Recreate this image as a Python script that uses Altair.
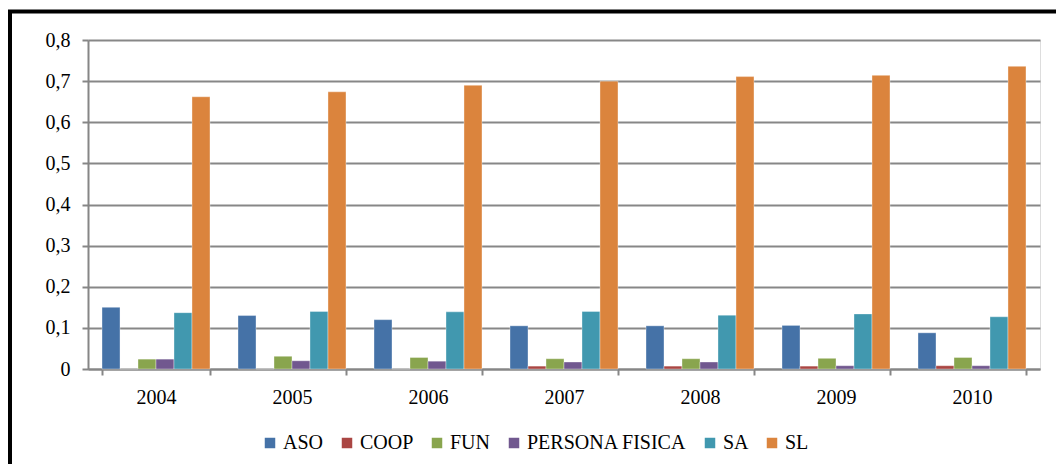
import altair as alt
import pandas as pd

years = ["2004", "2005", "2006", "2007", "2008", "2009", "2010"]
series = ["ASO", "COOP", "FUN", "PERSONA FISICA", "SA", "SL"]
colors = ["#4572A7", "#AA4643", "#89A54E", "#71588F", "#4198AF", "#DB843D"]

ASO = [0.150, 0.130, 0.120, 0.105, 0.105, 0.106, 0.088]
COOP = [0.0, 0.0, 0.0, 0.007, 0.007, 0.007, 0.008]
FUN = [0.024, 0.031, 0.028, 0.025, 0.025, 0.026, 0.028]
PERSONA_FISICA = [0.024, 0.020, 0.019, 0.017, 0.017, 0.008, 0.008]
SA = [0.137, 0.140, 0.139, 0.140, 0.131, 0.134, 0.127]
SL = [0.662, 0.674, 0.690, 0.700, 0.711, 0.714, 0.736]

y_ticks = [0, 0.1, 0.2, 0.3, 0.4, 0.5, 0.6, 0.7, 0.8]

values = {"ASO": ASO, "COOP": COOP, "FUN": FUN, "PERSONA FISICA": PERSONA_FISICA, "SA": SA, "SL": SL}
rows = []
for s in series:
    for yr, v in zip(years, values[s]):
        rows.append({"year": yr, "series": s, "value": v})
df = pd.DataFrame(rows)

FONT = "Liberation Serif"

bars = alt.Chart(df).mark_bar(stroke="#ffffff", strokeWidth=0.6, strokeOpacity=0.6).encode(
    x=alt.X("year:N", sort=years, title=None,
            scale=alt.Scale(paddingInner=0.206, paddingOuter=0.103),
            axis=alt.Axis(labelAngle=0, tickBand="extent", tickSize=6, labelPadding=12,
                          domainColor="#868686", domainWidth=2, tickColor="#868686", tickWidth=2,
                          labelFont=FONT, labelFontSize=20, labelColor="#000000", grid=False)),
    xOffset=alt.XOffset("series:N", sort=series, scale=alt.Scale(paddingInner=0, paddingOuter=0)),
    y=alt.Y("value:Q", title=None,
            scale=alt.Scale(domain=[0, 0.8], nice=False),
            axis=alt.Axis(values=y_ticks, tickSize=6, labelPadding=12,
                          labelExpr="datum.value == 0 ? '0' : replace(format(datum.value, '.1f'), '.', ',')",
                          domainColor="#868686", domainWidth=2, tickColor="#868686", tickWidth=2,
                          gridColor="#878787", gridWidth=2,
                          labelFont=FONT, labelFontSize=20, labelColor="#000000")),
    color=alt.Color("series:N", sort=series, scale=alt.Scale(domain=series, range=colors),
                    legend=alt.Legend(title=None, orient="none", direction="horizontal",
                                      legendX=172, legendY=393, symbolType="square", symbolSize=110,
                                      symbolStrokeWidth=0, labelFont=FONT, labelFontSize=20,
                                      labelColor="#000000", labelOffset=3, columnPadding=13,
                                      padding=0)),
)

border = alt.Chart(pd.DataFrame({"a": [0]})).mark_rect(
    fill=None, filled=False, stroke="#000000", strokeWidth=4, clip=False
).encode(
    x=alt.value(-78), x2=alt.value(1300), y=alt.value(-28.5), y2=alt.value(700)
)

chart = alt.layer(bars, border).properties(
    width=952, height=329,
    autosize=alt.AutoSizeParams(type="none"),
    padding={"left": 80, "top": 32, "right": 16, "bottom": 95},
).configure_view(stroke=None).configure(background="#ffffff")

chart.save("out.html", embed_options={"renderer": "svg", "actions": False})
